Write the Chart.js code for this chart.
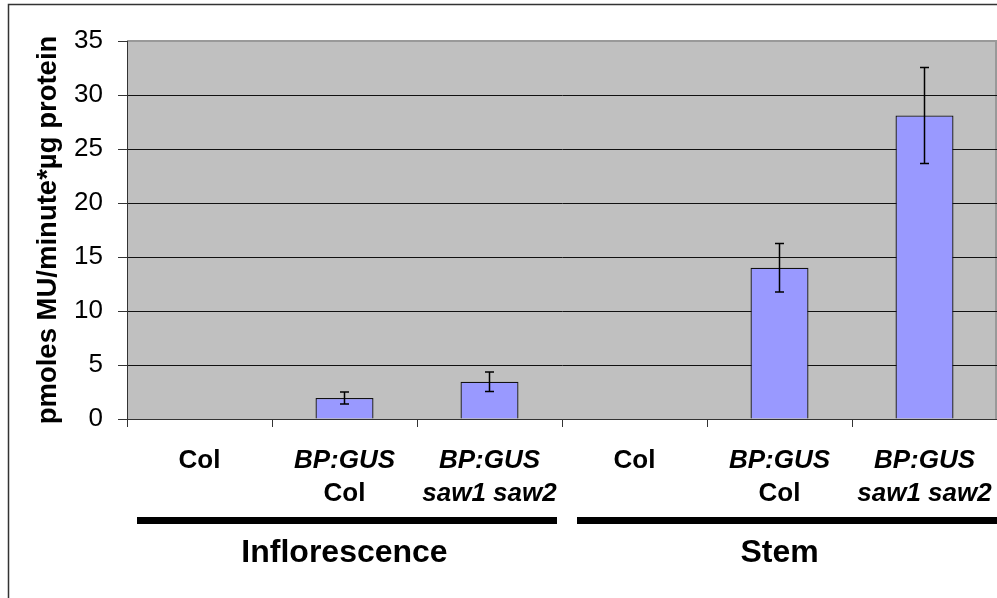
<!DOCTYPE html>
<html>
<head>
<meta charset="utf-8">
<script src="https://cdn.jsdelivr.net/npm/chart.js@4.4.0/dist/chart.umd.min.js"></script>
<style>
  html, body { margin: 0; padding: 0; background: #fff; }
  canvas { display: block; }
</style>
</head>
<body>
<canvas id="gusChart" width="997" height="598"></canvas>
<script>
// categories (two text rows under each bar)
var labelTop = ['Col', 'BP:GUS', 'BP:GUS', 'Col', 'BP:GUS', 'BP:GUS']
var labelBottom = ['', 'Col', 'saw1 saw2', '', 'Col', 'saw1 saw2']
var italicLabels = ['BP:GUS', 'saw1 saw2']

// GUS activity and error
var values = [0, 1.95, 3.45, 0, 14.0, 28.1]
var errors = [0, 0.55, 0.9, 0, 2.25, 4.45]

// tissue groups
var groupNames = ['Inflorescence', 'Stem']
var groupFirst = [0, 3]
var groupLast = [2, 5]

var yTicks = [0, 5, 10, 15, 20, 25, 30, 35]
var yTitle = 'pmoles MU/minute*\u00b5g protein'

var FONT = '"Liberation Sans", Arial, sans-serif'

/*--------------------------------------------------- plugins ----------------------------------------------------- */

var plotBackground = {
    id: 'plotBackground',
    beforeDraw: function (chart) {
        var ctx = chart.ctx, a = chart.chartArea
        ctx.save()
        // outer frame
        ctx.strokeStyle = '#333'
        ctx.lineWidth = 1.5
        ctx.strokeRect(8.5, 4.5, 1200, 800)
        ctx.fillStyle = '#c0c0c0'
        ctx.fillRect(a.left, a.top, a.right - a.left, a.bottom - a.top)
        ctx.strokeStyle = '#999'
        ctx.lineWidth = 2
        ctx.beginPath()
        ctx.moveTo(a.left, a.top)
        ctx.lineTo(a.right - 1, a.top)
        ctx.lineTo(a.right - 1, a.bottom)
        ctx.stroke()
        ctx.restore()
    }
}

var errorBars = {
    id: 'errorBars',
    afterDatasetsDraw: function (chart) {
        var ctx = chart.ctx
        var y = chart.scales.y
        var meta = chart.getDatasetMeta(0)
        ctx.save()
        ctx.strokeStyle = '#000'
        ctx.lineWidth = 1.5
        meta.data.forEach(function (bar, i) {
            if (!errors[i]) return
            var top = y.getPixelForValue(values[i] + errors[i])
            var bot = y.getPixelForValue(values[i] - errors[i])
            ctx.beginPath()
            ctx.moveTo(bar.x, top)
            ctx.lineTo(bar.x, bot)
            ctx.moveTo(bar.x - 4.5, top)
            ctx.lineTo(bar.x + 4.5, top)
            ctx.moveTo(bar.x - 4.5, bot)
            ctx.lineTo(bar.x + 4.5, bot)
            ctx.stroke()
        })
        ctx.restore()
    }
}

var extraText = {
    id: 'extraText',
    afterDraw: function (chart) {
        var ctx = chart.ctx
        var x = chart.scales.x
        var a = chart.chartArea
        var step = (a.right - a.left) / labelTop.length
        ctx.save()
        ctx.fillStyle = '#000'
        ctx.textAlign = 'center'
        ctx.textBaseline = 'alphabetic'

        // category labels
        for (var i = 0; i < labelTop.length; i++) {
            var cx = x.getPixelForValue(i)
            var rows = [labelTop[i], labelBottom[i]]
            for (var r = 0; r < 2; r++) {
                if (!rows[r]) continue
                var it = italicLabels.indexOf(rows[r]) >= 0 ? 'italic ' : ''
                ctx.font = it + 'bold 26px ' + FONT
                ctx.fillText(rows[r], cx, 468 + r * 33)
            }
        }

        // group bars and names
        for (var g = 0; g < groupNames.length; g++) {
            var x0 = a.left + groupFirst[g] * step + (g === 0 ? 10 : 15)
            var x1 = a.left + (groupLast[g] + 1) * step - (g === 0 ? 5 : 0)
            ctx.fillRect(x0, 517, x1 - x0, 7)
            ctx.font = 'bold 32px ' + FONT
            var mid = (x.getPixelForValue(groupFirst[g]) + x.getPixelForValue(groupLast[g])) / 2
            ctx.fillText(groupNames[g], mid, 562)
        }

        // y axis title
        ctx.translate(56, (a.top + a.bottom) / 2)
        ctx.rotate(-Math.PI / 2)
        ctx.font = 'bold 27.5px ' + FONT
        ctx.fillText(yTitle, 0, 0)
        ctx.restore()
    }
}

/*--------------------------------------------------- chart ----------------------------------------------------- */

var data = {
    labels: labelTop.map(function (t, i) { return [t, labelBottom[i]] }),
    datasets: [
        {
            data: values,
            backgroundColor: '#9999ff',
            borderColor: '#111',
            borderWidth: 1.3,
            barPercentage: 0.4,
            categoryPercentage: 1,
        },
    ],
}

var config = {
    type: 'bar',
    data: data,
    plugins: [plotBackground, errorBars, extraText],
    options: {
        responsive: false,
        animation: false,
        layout: { padding: { left: 0, top: 41, right: 0, bottom: 0 } },
        plugins: { legend: { display: false }, tooltip: { enabled: false } },
        scales: {
            x: {
                offset: true,
                grid: {
                    offset: true,
                    drawOnChartArea: false,
                    drawTicks: true,
                    tickLength: 8,
                    color: '#333',
                },
                border: { color: '#333', width: 1 },
                ticks: { display: false },
                afterFit: function (scale) { scale.height = 179 },
            },
            y: {
                min: 0,
                max: 35,
                afterBuildTicks: function (scale) {
                    scale.ticks = yTicks.map(function (v) { return { value: v } })
                },
                grid: {
                    color: function (c) {
                        if (c.tick && c.tick.value === 35) return 'rgba(0,0,0,0)'
                        return '#111'
                    },
                    tickColor: '#333',
                    tickLength: 9,
                    lineWidth: 1,
                },
                border: { color: '#333', width: 1 },
                ticks: {
                    color: '#000',
                    font: { family: FONT, size: 26 },
                    padding: 15,
                },
                afterFit: function (scale) { scale.width = 127 },
            },
        },
    },
}

var canvas = document.getElementById('gusChart')
var chart = new Chart(canvas, config)
</script>
</body>
</html>
